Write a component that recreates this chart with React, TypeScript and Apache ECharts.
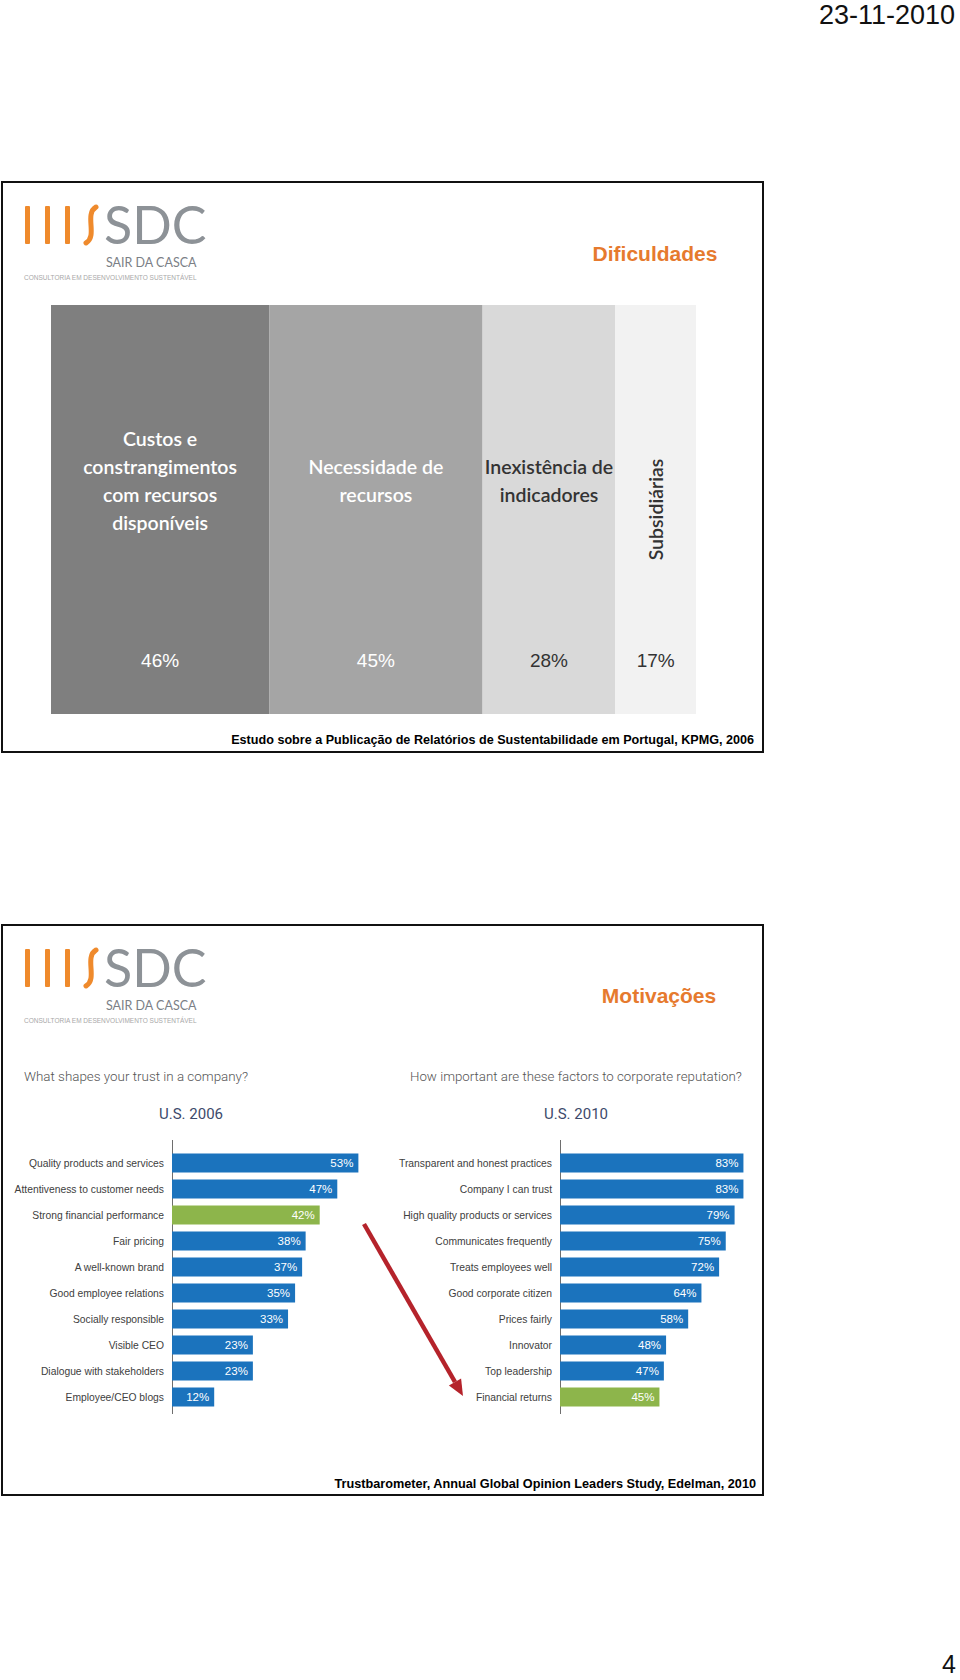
import React, { useEffect, useRef } from "react";
import * as echarts from "echarts";

// ---- Data ----
const difCategories = [
  "Custos e\nconstrangimentos\ncom recursos\ndisponíveis",
  "Necessidade de\nrecursos",
  "Inexistência de\nindicadores",
  "Subsidiárias",
];
const difValues = [46, 45, 28, 17];

const trust2006Categories = [
  "Quality products and services",
  "Attentiveness to customer needs",
  "Strong financial performance",
  "Fair pricing",
  "A well-known brand",
  "Good employee relations",
  "Socially responsible",
  "Visible CEO",
  "Dialogue with stakeholders",
  "Employee/CEO blogs",
];
const trust2006Values = [53, 47, 42, 38, 37, 35, 33, 23, 23, 12];
const trust2006Highlight = "Strong financial performance";

const reputation2010Categories = [
  "Transparent and honest practices",
  "Company I can trust",
  "High quality products or services",
  "Communicates frequently",
  "Treats employees well",
  "Good corporate citizen",
  "Prices fairly",
  "Innovator",
  "Top leadership",
  "Financial returns",
];
const reputation2010Values = [83, 83, 79, 75, 72, 64, 58, 48, 47, 45];
const reputation2010Highlight = "Financial returns";

// ---- Styles ----
const difColors = ["#7f7f7f", "#a5a5a5", "#d9d9d9", "#f2f2f2"];
const difTextColors = ["#ffffff", "#ffffff", "#333333", "#333333"];
const BLUE = "#1b73bd";
const GREEN = "#8db54b";
const ORANGE = "#e67a2e";
const SANS = "'Liberation Sans', Arial, sans-serif";

function logo(top: number): any[] {
  const o = top; // offset: box top
  const els: any[] = [];
  [25, 45, 65].forEach((x) => {
    els.push({
      type: "rect",
      shape: { x, y: o + 24, width: 5, height: 38, r: 1 },
      style: { fill: "#ef8a2c" },
    });
  });
  els.push({
    type: "bezierCurve",
    shape: { x1: 96, y1: o + 25, cpx1: 84, cpy1: o + 32, cpx2: 98, cpy2: o + 54, x2: 86, y2: o + 61 },
    style: { stroke: "#ef8a2c", lineWidth: 5, fill: "none", lineCap: "round" },
  });
  els.push({
    type: "text",
    x: 104,
    y: o + 42,
    style: {
      text: "SDC",
      fill: "#8d9297",
      font: "normal 52px Lato, sans-serif",
      lineHeight: 40,
      verticalAlign: "middle",
      align: "left",
    },
  });
  els.push({
    type: "text",
    x: 106,
    y: o + 80,
    style: { text: "SAIR DA CASCA", fill: "#7b8086", font: "normal 12.5px Lato, sans-serif", verticalAlign: "middle", align: "left" },
  });
  els.push({
    type: "text",
    x: 24,
    y: o + 95,
    style: { text: "CONSULTORIA EM DESENVOLVIMENTO SUSTENTÁVEL", fill: "#a8a8a8", font: "normal 6.5px " + SANS, verticalAlign: "middle", align: "left" },
  });
  return els;
}

function txt(x: number, y: number, text: string, font: string, fill: string, align = "left") {
  return { type: "text", x, y, style: { text, font, fill, align, verticalAlign: "middle" } };
}

export default function App() {
  const ref = useRef<HTMLDivElement>(null);
  useEffect(() => {
    const chart = echarts.init(ref.current!, null, { renderer: "svg" });
    const total = difValues.reduce((a, b) => a + b, 0);

    const catAxisLabel = {
      fontFamily: SANS,
      fontSize: 10.3,
      color: "#404040",
      margin: 8,
    };

    const difSeries: any[] = difValues.map((v, i) => ({
      type: "bar",
      name: "p" + i,
      xAxisIndex: 0,
      yAxisIndex: 0,
      stack: "p",
      barWidth: "100%",
      silent: true,
      data: [v],
      itemStyle: { color: difColors[i] },
      label: {
        show: true,
        position: ["50%", "87%"],
        align: "center",
        verticalAlign: "middle",
        formatter: "{c}%",
        color: difTextColors[i],
        fontSize: 19,
        fontFamily: SANS,
      },
    }));
    const nameSeries: any[] = difValues.map((v, i) => ({
      type: "bar",
      name: "n" + i,
      xAxisIndex: 1,
      yAxisIndex: 1,
      stack: "n",
      barWidth: "100%",
      silent: true,
      data: [v],
      itemStyle: { color: "rgba(0,0,0,0)" },
      label: {
        show: true,
        position: i === 3 ? ["50%", "50%"] : ["50%", "43%"],
        align: "center",
        verticalAlign: "middle",
        rotate: i === 3 ? 90 : 0,
        formatter: () => difCategories[i],
        color: difTextColors[i],
        fontSize: 19.5,
        fontWeight: 600,
        lineHeight: 28,
        fontFamily: "Lato, 'Open Sans', sans-serif",
      },
    }));

    const option: any = {
      animation: false,
      backgroundColor: "#ffffff",
      grid: [
        { left: 51, top: 305, width: 645, height: 409 },
        { left: 51, top: 305, width: 645, height: 409 },
        { left: 172, top: 1150, width: 211, height: 260 },
        { left: 560, top: 1150, width: 221, height: 260 },
      ],
      xAxis: [
        { gridIndex: 0, type: "value", min: 0, max: total, show: false },
        { gridIndex: 1, type: "value", min: 0, max: total, show: false },
        { gridIndex: 2, type: "value", min: 0, max: 60, show: false },
        { gridIndex: 3, type: "value", min: 0, max: 100, show: false },
      ],
      yAxis: [
        { gridIndex: 0, type: "category", data: ["Dificuldades"], show: false },
        { gridIndex: 1, type: "category", data: ["Dificuldades"], show: false },
        {
          gridIndex: 2,
          type: "category",
          data: trust2006Categories,
          inverse: true,
          axisLine: { show: false },
          axisTick: { show: false },
          splitLine: { show: false },
          axisLabel: catAxisLabel,
        },
        {
          gridIndex: 3,
          type: "category",
          data: reputation2010Categories,
          inverse: true,
          axisLine: { show: false },
          axisTick: { show: false },
          splitLine: { show: false },
          axisLabel: catAxisLabel,
        },
      ],
      series: [
        ...difSeries,
        ...nameSeries,
        {
          type: "bar",
          xAxisIndex: 2,
          yAxisIndex: 2,
          barWidth: 19,
          silent: true,
          data: trust2006Values.map((v, i) => ({
            value: v,
            itemStyle: { color: trust2006Categories[i] === trust2006Highlight ? GREEN : BLUE },
          })),
          label: {
            show: true,
            position: "insideRight",
            distance: 5,
            formatter: "{c}%",
            color: "#ffffff",
            fontSize: 11.5,
            fontFamily: SANS,
          },
        },
        {
          type: "bar",
          xAxisIndex: 3,
          yAxisIndex: 3,
          barWidth: 19,
          silent: true,
          data: reputation2010Values.map((v, i) => ({
            value: v,
            itemStyle: { color: reputation2010Categories[i] === reputation2010Highlight ? GREEN : BLUE },
          })),
          label: {
            show: true,
            position: "insideRight",
            distance: 5,
            formatter: "{c}%",
            color: "#ffffff",
            fontSize: 11.5,
            fontFamily: SANS,
          },
        },
      ],
      graphic: [
        // page header / footer
        txt(955, 15, "23-11-2010", "normal 27px " + SANS, "#111111", "right"),
        txt(956, 1664, "4", "normal 25px " + SANS, "#111111", "right"),
        // slide frames
        {
          type: "rect",
          shape: { x: 2, y: 182, width: 761, height: 570 },
          style: { fill: "none", stroke: "#111111", lineWidth: 2 },
        },
        {
          type: "rect",
          shape: { x: 2, y: 925, width: 761, height: 570 },
          style: { fill: "none", stroke: "#111111", lineWidth: 2 },
        },
        ...logo(182),
        ...logo(925),
        // slide 1 texts
        txt(655, 253, "Dificuldades", "bold 21px " + SANS, ORANGE, "center"),
        txt(754, 740, "Estudo sobre a Publicação de Relatórios de Sustentabilidade em Portugal, KPMG, 2006", "bold 12.6px " + SANS, "#000000", "right"),
        // slide 2 texts
        txt(659, 995, "Motivações", "bold 21px " + SANS, ORANGE, "center"),
        txt(24, 1076, "What shapes your trust in a company?", "300 13.4px Roboto, sans-serif", "#555555", "left"),
        txt(410, 1076, "How important are these factors to corporate reputation?", "300 13.3px Roboto, sans-serif", "#555555", "left"),
        txt(191, 1114, "U.S. 2006", "normal 15px Roboto, sans-serif", "#3d4a6b", "center"),
        txt(576, 1114, "U.S. 2010", "normal 15px Roboto, sans-serif", "#3d4a6b", "center"),
        txt(756, 1484, "Trustbarometer, Annual Global Opinion Leaders Study, Edelman, 2010", "bold 12.7px " + SANS, "#000000", "right"),
        // category axis lines (extend slightly beyond the bars, as in the source)
        {
          type: "line",
          shape: { x1: 172.5, y1: 1140, x2: 172.5, y2: 1414 },
          style: { stroke: "#6e6e6e", lineWidth: 1 },
        },
        {
          type: "line",
          shape: { x1: 560.5, y1: 1140, x2: 560.5, y2: 1414 },
          style: { stroke: "#6e6e6e", lineWidth: 1 },
        },
        // red arrow
        {
          type: "line",
          shape: { x1: 364, y1: 1224, x2: 455, y2: 1382 },
          style: { stroke: "#b5232b", lineWidth: 4.5 },
        },
        {
          type: "polygon",
          shape: { points: [[463, 1396], [448.9, 1385.6], [461.1, 1378.6]] },
          style: { fill: "#b5232b" },
        },
      ],
    };
    chart.setOption(option);
    return () => chart.dispose();
  }, []);
  return (
    <div
      ref={ref}
      style={{ position: "absolute", left: 0, top: 0, width: 960, height: 1680, background: "#fff" }}
    />
  );
}
